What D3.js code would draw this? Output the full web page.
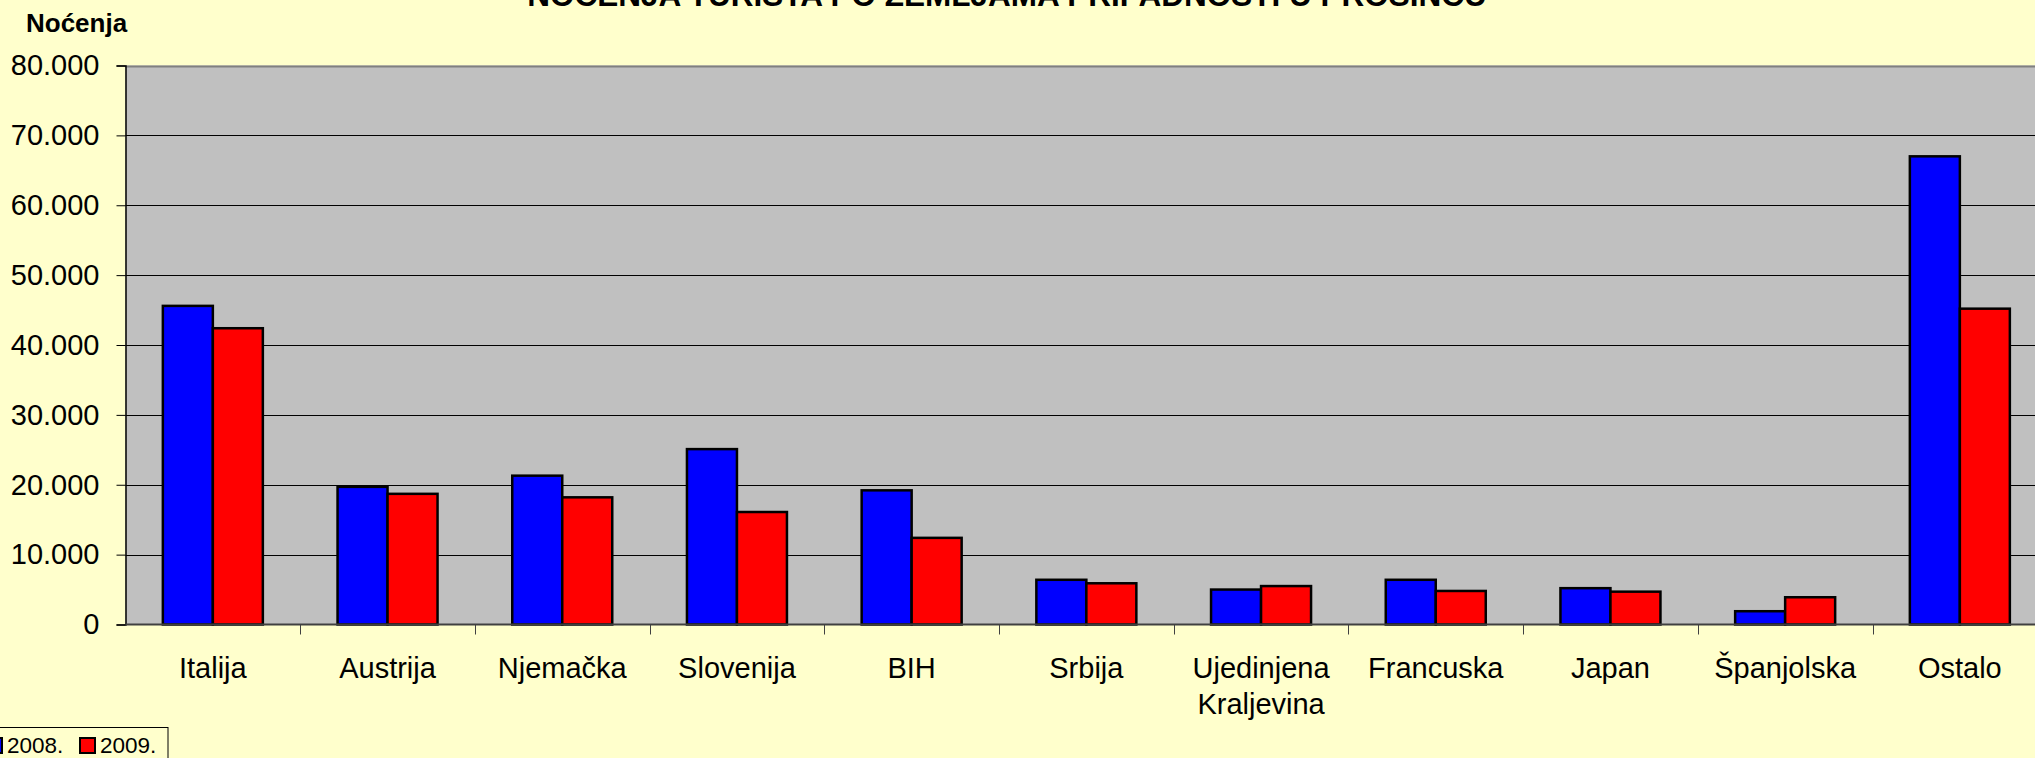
<!DOCTYPE html>
<html><head><meta charset="utf-8">
<script src="https://cdn.jsdelivr.net/npm/d3@7"></script>
<style>html,body{margin:0;padding:0;background:#FFFFCC;overflow:hidden}svg{display:block}</style>
</head><body>
<script>
const categories = ["Italija","Austrija","Njemačka","Slovenija","BIH","Srbija","Ujedinjena Kraljevina","Francuska","Japan","Španjolska","Ostalo"];
const labelLines = [["Italija"],["Austrija"],["Njemačka"],["Slovenija"],["BIH"],["Srbija"],["Ujedinjena","Kraljevina"],["Francuska"],["Japan"],["Španjolska"],["Ostalo"]];
const series = ["2008.","2009."];
const v2008 = [45600, 19700, 21300, 25100, 19200, 6400, 5000, 6400, 5200, 1900, 67000];
const v2009 = [42400, 18700, 18200, 16100, 12400, 5900, 5500, 4800, 4700, 3900, 45200];
const yTicks = [0,10000,20000,30000,40000,50000,60000,70000,80000];
const colors = ["#0000FF","#FF0000"];

const W = 2035, H = 758;
const pLeft = 125.5, pTop = 65.5, pBottom = 624.5, step = 174.7;
const pRight = pLeft + step*categories.length;
const FONT = "Liberation Sans, Arial, sans-serif";
const svg = d3.select("body").append("svg").attr("width",W).attr("height",H);
svg.append("rect").attr("width",W).attr("height",H).attr("fill","#FFFFCC");

const x = d3.scaleBand().domain(categories).range([pLeft,pRight]).padding(0);
const y = d3.scaleLinear().domain([0,80000]).range([pBottom,pTop]);
const fmt = d3.formatLocale({decimal:",",thousands:".",grouping:[3],currency:["",""]}).format(",");

// plot area
svg.append("rect").attr("x",pLeft).attr("y",pTop).attr("width",pRight-pLeft).attr("height",pBottom-pTop).attr("fill","#C0C0C0");
// gridlines
svg.append("g").selectAll("line").data(yTicks.filter(d=>d>0)).join("line")
  .attr("x1",pLeft).attr("x2",pRight).attr("y1",d=>Math.round(y(d))+0.5).attr("y2",d=>Math.round(y(d))+0.5)
  .attr("stroke",d=>d===80000?"#808080":"#000").attr("stroke-width",d=>d===80000?2:1);

// y axis
const ya = svg.append("g").attr("transform",`translate(${pLeft},0)`)
  .call(d3.axisLeft(y).tickValues(yTicks).tickFormat(fmt).tickSize(9).tickPadding(17));
ya.select(".domain").attr("stroke","#000").attr("stroke-width",1.5);
ya.selectAll(".tick line").attr("stroke","#000");
ya.selectAll("text").attr("font-family",FONT).attr("font-size",29).attr("fill","#000");

// bars
const sub = d3.scaleBand().domain(series).range([0,100]);
const groups = svg.append("g").selectAll("g").data(categories).join("g")
  .attr("transform",d=>`translate(${x(d)+x.bandwidth()/2-50},0)`);
groups.selectAll("rect").data((d,i)=>[{s:series[0],v:v2008[i],c:colors[0]},{s:series[1],v:v2009[i],c:colors[1]}]).join("rect")
  .attr("x",d=>sub(d.s)).attr("width",sub.bandwidth())
  .attr("y",d=>y(d.v)).attr("height",d=>pBottom-y(d.v))
  .attr("fill",d=>d.c).attr("stroke","#000").attr("stroke-width",2.5);

// x axis baseline and ticks
svg.append("line").attr("x1",pLeft).attr("x2",pRight).attr("y1",pBottom).attr("y2",pBottom).attr("stroke","#404040").attr("stroke-width",2);
svg.append("g").selectAll("line").data(categories.slice(1)).join("line")
  .attr("x1",d=>Math.round(x(d))+0.5).attr("x2",d=>Math.round(x(d))+0.5).attr("y1",pBottom).attr("y2",pBottom+10)
  .attr("stroke","#404040").attr("stroke-width",1);
// x labels
const xl = svg.append("g").selectAll("text").data(categories).join("text")
  .attr("x",d=>x(d)+x.bandwidth()/2).attr("y",678)
  .attr("text-anchor","middle").attr("font-family",FONT).attr("font-size",29).attr("fill","#000");
xl.each(function(d,i){
  d3.select(this).selectAll("tspan").data(labelLines[i]).join("tspan")
    .attr("x",x(d)+x.bandwidth()/2).attr("dy",(t,j)=>j===0?0:36).text(t=>t);
});

// title
svg.append("text").attr("x",1007).attr("y",6).attr("text-anchor","middle")
  .attr("font-family",FONT).attr("font-weight","bold").attr("font-size",31.5)
  .text("NOĆENJA TURISTA PO ZEMLJAMA PRIPADNOSTI U PROSINCU");
// y axis title
svg.append("text").attr("x",26).attr("y",32)
  .attr("font-family",FONT).attr("font-weight","bold").attr("font-size",26)
  .text("Noćenja");

// legend
const lg = svg.append("g");
lg.append("rect").attr("x",-20).attr("y",727.5).attr("width",188).attr("height",50).attr("fill","#FFFFCC").attr("stroke","#000").attr("stroke-width",1);
const lx = [-13, 80];
series.forEach((s,i)=>{
  lg.append("rect").attr("x",lx[i]).attr("y",738).attr("width",15).attr("height",15).attr("fill",colors[i]).attr("stroke","#000").attr("stroke-width",2);
  lg.append("text").attr("x",lx[i]+20).attr("y",753).attr("font-family",FONT).attr("font-size",22.5).text(s);
});
</script>
</body></html>
